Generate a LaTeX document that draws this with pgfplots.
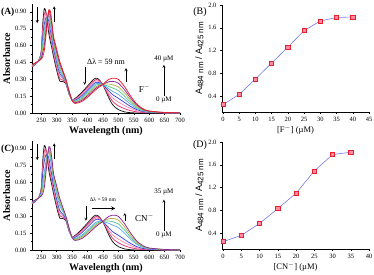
\documentclass[border=0pt]{standalone}
\usepackage{fontspec}
\setmainfont{Liberation Serif}
\newfontfamily\arial{Liberation Sans}
\usepackage{pgfplots}
\pgfplotsset{compat=1.18}
\usepackage{pgfplotstable}

\definecolor{k0}{RGB}{20,20,20}
\definecolor{k1}{RGB}{225,50,110}
\definecolor{k2}{RGB}{250,140,175}
\definecolor{k3}{RGB}{60,70,220}
\definecolor{k4}{RGB}{100,170,235}
\definecolor{k5}{RGB}{80,200,150}
\definecolor{k6}{RGB}{190,175,70}
\definecolor{k7}{RGB}{140,40,150}
\definecolor{k8}{RGB}{235,30,45}
\definecolor{mfill}{RGB}{255,140,160}
\definecolor{mline}{RGB}{120,120,230}

\pgfplotstableread{
wl c0 c1 c2 c3 c4 c5 c6 c7 c8
220 0.41 0.413 0.415 0.418 0.42 0.423 0.425 0.428 0.43
240 0.46 0.46 0.46 0.46 0.46 0.46 0.46 0.46 0.46
250 0.55 0.541 0.533 0.524 0.515 0.506 0.498 0.489 0.48
255 0.80 0.763 0.725 0.688 0.65 0.613 0.575 0.538 0.50
260 0.93 0.884 0.838 0.791 0.745 0.699 0.653 0.606 0.56
265 0.90 0.893 0.875 0.848 0.82 0.783 0.755 0.718 0.68
270 0.80 0.823 0.835 0.848 0.86 0.853 0.845 0.838 0.82
275 0.70 0.738 0.775 0.813 0.85 0.878 0.895 0.913 0.92
280 0.63 0.664 0.698 0.731 0.765 0.799 0.833 0.866 0.90
285 0.57 0.599 0.628 0.656 0.685 0.714 0.743 0.771 0.80
290 0.50 0.523 0.545 0.568 0.59 0.613 0.635 0.658 0.68
300 0.38 0.404 0.428 0.451 0.475 0.499 0.523 0.546 0.57
310 0.285 0.307 0.329 0.351 0.373 0.394 0.416 0.438 0.46
320 0.28 0.293 0.305 0.318 0.33 0.343 0.355 0.368 0.38
330 0.26 0.265 0.27 0.275 0.28 0.285 0.29 0.295 0.30
340 0.17 0.174 0.178 0.181 0.185 0.189 0.193 0.196 0.20
350 0.12 0.119 0.118 0.116 0.115 0.114 0.113 0.111 0.11
360 0.13 0.124 0.119 0.113 0.108 0.102 0.096 0.091 0.085
380 0.18 0.17 0.16 0.15 0.14 0.13 0.12 0.11 0.10
400 0.24 0.228 0.215 0.203 0.19 0.178 0.165 0.153 0.14
420 0.30 0.286 0.273 0.259 0.245 0.231 0.218 0.204 0.19
430 0.31 0.298 0.286 0.274 0.263 0.251 0.239 0.227 0.215
440 0.29 0.283 0.276 0.269 0.263 0.256 0.249 0.242 0.235
450 0.25 0.251 0.251 0.252 0.253 0.253 0.254 0.254 0.255
460 0.19 0.201 0.213 0.224 0.235 0.246 0.258 0.269 0.28
470 0.13 0.151 0.173 0.194 0.215 0.236 0.258 0.279 0.30
480 0.08 0.109 0.138 0.166 0.195 0.224 0.253 0.281 0.31
490 0.05 0.083 0.115 0.148 0.18 0.213 0.245 0.278 0.31
500 0.03 0.064 0.098 0.131 0.165 0.199 0.233 0.266 0.30
520 0.01 0.038 0.066 0.094 0.123 0.151 0.179 0.207 0.235
540 0.003 0.021 0.04 0.058 0.077 0.095 0.113 0.132 0.15
560 0 0.01 0.02 0.03 0.04 0.05 0.06 0.07 0.08
580 0 0.005 0.01 0.014 0.019 0.024 0.029 0.033 0.038
600 0 0.002 0.005 0.007 0.009 0.011 0.014 0.016 0.018
650 0 0.001 0.001 0.002 0.003 0.003 0.004 0.004 0.005
700 0 0 0 0.001 0.001 0.001 0.002 0.002 0.002
}\spec

\pgfplotstableread{
x r
0 0.25
5 0.43
10 0.70
15 0.98
20 1.26
25 1.55
30 1.72
35 1.78
40 1.79
}\ratioF

\pgfplotstableread{
x r
0 0.25
5 0.36
10 0.57
15 0.83
20 1.10
25 1.49
30 1.78
35 1.82
}\ratioCN

\newcommand{\sub}[1]{\raisebox{-1.6pt}{\fontsize{8}{8}\selectfont #1}}

\pgfplotsset{
  base/.style={
    scale only axis,
    axis x line*=bottom, axis y line*=left,
    tick align=outside,
    tick style={black, line width=0.4pt},
    major tick length=2pt, minor tick length=1.2pt,
    axis line style={line width=0.5pt},
    tick label style={font=\fontsize{6.5}{7}\selectfont},
    /pgf/number format/assume math mode=true,
    clip=false,
  },
  spectra/.style={
    base,
    width=148pt, height=109pt,
    xmin=220, xmax=700, ymin=0, ymax=0.97,
    xtick={250,300,...,700},
    minor x tick num=1,
    ytick={0,0.15,0.30,0.45,0.60,0.75,0.90},
    minor y tick num=1,
    yticklabel style={/pgf/number format/.cd, fixed, fixed zerofill, precision=2},
    xlabel={\textbf{Wavelength (nm)}},
    ylabel={\textbf{Absorbance}},
    label style={font=\fontsize{10}{11}\selectfont},
    xlabel style={yshift=3pt},
    ylabel style={yshift=-2pt},
    every axis plot/.append style={line width=0.75pt, smooth, tension=0.45, no marks},
  },
  ratio/.style={
    base,
    width=147pt, height=107pt,
    xmin=-0.3, ymin=0.12, ymax=2.0,
    ytick={0.4,0.8,1.2,1.6,2.0},
    yticklabel style={/pgf/number format/.cd, fixed, fixed zerofill, precision=1},
    xlabel style={font=\fontsize{8.5}{9}\selectfont, yshift=3pt},
    ylabel style={font=\arial\fontsize{9}{10}\selectfont, yshift=-2pt},
  },
  rplot/.style={color=mline, line width=0.6pt, mark=square*, mark size=2.1pt,
      mark options={fill=mfill, draw=k8, line width=0.6pt}},
}

\begin{document}
\begin{tikzpicture}
\useasboundingbox (0,0) rectangle (374pt,-274pt);

% (A)
\begin{axis}[spectra, at={(32pt,-113pt)}, anchor=south west]
\addplot[k0] table[x=wl,y=c0]{\spec};
\addplot[k1] table[x=wl,y=c1]{\spec};
\addplot[k2] table[x=wl,y=c2]{\spec};
\addplot[k3] table[x=wl,y=c3]{\spec};
\addplot[k4] table[x=wl,y=c4]{\spec};
\addplot[k5] table[x=wl,y=c5]{\spec};
\addplot[k6] table[x=wl,y=c6]{\spec};
\addplot[k7] table[x=wl,y=c7]{\spec};
\addplot[k8] table[x=wl,y=c8]{\spec};
\draw[->, >=stealth, line width=0.4pt] (axis cs:237,0.945) -- (axis cs:237,0.80);
\draw[->, >=stealth, line width=0.4pt] (axis cs:292,0.81) -- (axis cs:292,0.95);
\draw[->, >=stealth, line width=0.4pt] (axis cs:391,0.41) -- (axis cs:391,0.25);
\draw[->, >=stealth, line width=0.4pt] (axis cs:525,0.28) -- (axis cs:525,0.40);
\draw[->, >=stealth, line width=0.4pt] (axis cs:648,0.15) -- (axis cs:648,0.43);
\node[font=\fontsize{8}{9}\selectfont] at (axis cs:460,0.455) {Δλ = 59 nm};
\node[font=\fontsize{7}{8}\selectfont] at (axis cs:648,0.48) {40 µM};
\node[font=\fontsize{7}{8}\selectfont] at (axis cs:648,0.12) {0 µM};
\node[font=\fontsize{9}{10}\selectfont] at (axis cs:585,0.22) {F$^{-}$};
\node[font=\bfseries\fontsize{9.5}{10}\selectfont, anchor=east, inner sep=0pt] at (rel axis cs:-0.118,0.925) {(A)};
\end{axis}

% (B)
\begin{axis}[ratio, at={(222pt,-112pt)}, anchor=south west,
  xmax=45, xtick={0,5,...,45},
  xlabel={[F$^{-}$] (µM)},
  ylabel={A\sub{484 nm} / A\sub{425 nm}}]
\addplot[rplot] table[x=x,y=r]{\ratioF};
\node[font=\fontsize{10}{11}\selectfont] at (rel axis cs:-0.15,0.93) {(B)};
\end{axis}

% (C)
\begin{axis}[spectra, at={(32pt,-250pt)}, anchor=south west]
\addplot[k0] table[x=wl,y=c0]{\spec};
\addplot[k1] table[x=wl,y=c1]{\spec};
\addplot[k2] table[x=wl,y=c2]{\spec};
\addplot[k3] table[x=wl,y=c3]{\spec};
\addplot[k4] table[x=wl,y=c5]{\spec};
\addplot[k5] table[x=wl,y=c6]{\spec};
\addplot[k6] table[x=wl,y=c7]{\spec};
\addplot[k7] table[x=wl,y=c8]{\spec};
\draw[->, >=stealth, line width=0.4pt] (axis cs:237,0.945) -- (axis cs:237,0.80);
\draw[->, >=stealth, line width=0.4pt] (axis cs:292,0.81) -- (axis cs:292,0.95);
\draw[->, >=stealth, line width=0.4pt] (axis cs:395,0.39) -- (axis cs:395,0.26);
\draw[->, >=stealth, line width=0.4pt] (axis cs:521,0.26) -- (axis cs:521,0.33);
\draw[->, >=stealth, line width=0.8pt] (axis cs:415,0.37) -- (axis cs:490,0.37);
\draw[->, >=stealth, line width=0.4pt] (axis cs:648,0.17) -- (axis cs:648,0.45);
\node[font=\fontsize{5.5}{6}\selectfont] at (axis cs:450,0.445) {Δλ = 59 nm};
\node[font=\fontsize{7}{8}\selectfont] at (axis cs:648,0.52) {35 µM};
\node[font=\fontsize{7}{8}\selectfont] at (axis cs:648,0.13) {0 µM};
\node[font=\fontsize{9}{10}\selectfont] at (axis cs:585,0.29) {CN$^{-}$};
\node[font=\bfseries\fontsize{9.5}{10}\selectfont, anchor=east, inner sep=0pt] at (rel axis cs:-0.118,0.925) {(C)};
\end{axis}

% (D)
\begin{axis}[ratio, at={(222pt,-249pt)}, anchor=south west,
  xmax=40, xtick={0,5,...,40},
  xlabel={[CN$^{-}$] (µM)},
  ylabel={A\sub{484 nm} / A\sub{425 nm}}]
\addplot[rplot] table[x=x,y=r]{\ratioCN};
\node[font=\fontsize{10}{11}\selectfont] at (rel axis cs:-0.15,0.97) {(D)};
\end{axis}
\end{tikzpicture}
\end{document}
